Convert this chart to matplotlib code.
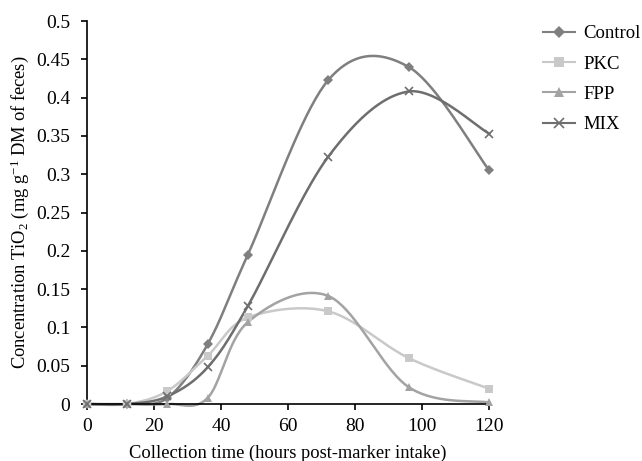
import numpy as np
import matplotlib
matplotlib.use("Agg")
import matplotlib.pyplot as plt
from matplotlib.lines import Line2D

hours = [0, 12, 24, 36, 48, 72, 96, 120]
control = [0.0, 0.0, 0.008, 0.078, 0.195, 0.423, 0.440, 0.305]
pkc = [0.0, 0.0, 0.017, 0.063, 0.113, 0.121, 0.060, 0.020]
fpp = [0.0, 0.0, 0.0, 0.008, 0.107, 0.141, 0.022, 0.002]
mix = [0.0, 0.0, 0.010, 0.048, 0.128, 0.323, 0.408, 0.353]

series = [
    ("Control", control, "#7f7f7f", "D", 5),
    ("PKC", pkc, "#c9c9c9", "s", 6),
    ("FPP", fpp, "#a3a3a3", "^", 6),
    ("MIX", mix, "#6e6e6e", "x", 6),
]


def smooth(x, y, n=40):
    # Excel-style smoothed line: cubic bezier with 1/6 tangent control points
    p = np.column_stack([x, y]).astype(float)
    pts = np.vstack([p[0], p, p[-1]])
    out = []
    t = np.linspace(0, 1, n)[:, None]
    for i in range(1, len(pts) - 2):
        p0, p1, p2, p3 = pts[i - 1], pts[i], pts[i + 1], pts[i + 2]
        b1 = p1 + (p2 - p0) / 6
        b2 = p2 - (p3 - p1) / 6
        seg = ((1 - t) ** 3) * p1 + 3 * ((1 - t) ** 2) * t * b1 \
            + 3 * (1 - t) * t ** 2 * b2 + t ** 3 * p2
        out.append(seg if i == 1 else seg[1:])
    c = np.vstack(out)
    return c[:, 0], c[:, 1]


plt.rcParams["font.family"] = ["Liberation Serif", "DejaVu Serif"]
plt.rcParams["mathtext.fontset"] = "custom"
plt.rcParams["mathtext.rm"] = "Liberation Serif"
plt.rcParams["mathtext.it"] = "Liberation Serif:italic"

fig = plt.figure(figsize=(6.42, 4.61), dpi=100)
ax = fig.add_axes([0.1355, 0.1236, 0.6265, 0.8308])

handles = []
for name, vals, col, mk, ms in series:
    sx, sy = smooth(hours, vals)
    ax.plot(sx, sy, color=col, lw=1.8, clip_on=False, zorder=2)
    mew = 1.2 if mk == "x" else 0
    ax.plot(hours, vals, ls="none", marker=mk, color=col, ms=ms,
            mew=mew, clip_on=False, zorder=3)
    handles.append(Line2D([], [], color=col, lw=1.5, marker=mk, ms=ms + 1,
                          mew=mew, label=name))

ax.set_xlim(0, 120)
ax.set_ylim(0, 0.5)
ax.set_xticks([0, 20, 40, 60, 80, 100, 120])
ax.set_yticks(np.arange(0, 0.51, 0.05))
ax.set_yticklabels(["0", "0.05", "0.1", "0.15", "0.2", "0.25", "0.3",
                    "0.35", "0.4", "0.45", "0.5"])
for s in ["top", "right"]:
    ax.spines[s].set_visible(False)
ax.spines["left"].set_linewidth(1.2)
ax.spines["bottom"].set_linewidth(1.2)
ax.tick_params(axis="both", labelsize=14, direction="out", length=4, width=1.2)
ax.tick_params(axis="y", pad=8)
ax.tick_params(axis="x", pad=6)
ax.set_xlabel("Collection time (hours post-marker intake)", fontsize=13.3,
              labelpad=7)
ax.set_ylabel(r"Concentration TiO$_2$ (mg g$^{-1}$ DM of feces)", fontsize=13.3,
              labelpad=4)

fig.legend(handles=handles, loc="upper left", bbox_to_anchor=(0.846, 0.945),
           frameon=False, fontsize=13.5, handlelength=1.7, handletextpad=0.43,
           borderpad=0, borderaxespad=0, labelspacing=0.7)

fig.savefig("out.png", dpi=100)
